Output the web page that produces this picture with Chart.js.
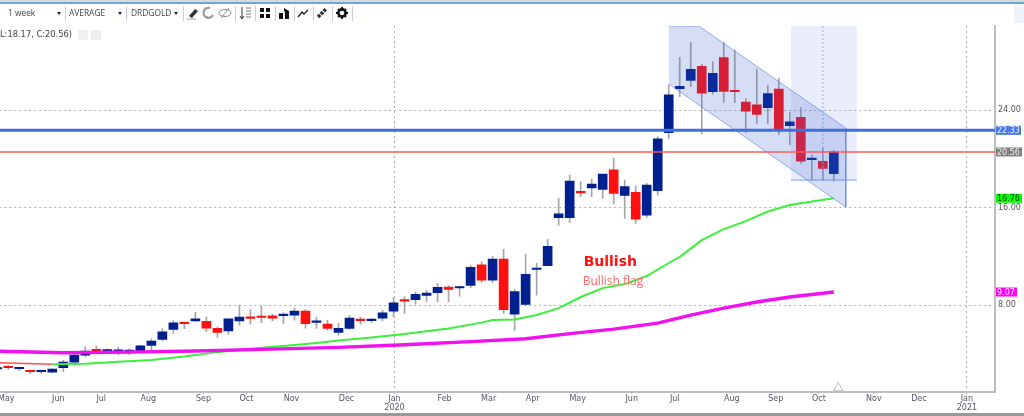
<!DOCTYPE html>
<html>
<head>
<meta charset="utf-8">
<title>DRDGOLD weekly</title>
<script src="https://cdn.jsdelivr.net/npm/chart.js@4/dist/chart.umd.js"></script>
<style>
  html, body { margin: 0; padding: 0; background: #fff; overflow: hidden; }
  #page { position: relative; width: 1024px; height: 416px; overflow: hidden; filter: blur(0.45px); font-family: "DejaVu Sans", sans-serif; }
  /* chart.js keeps 2px free on the left, canvas is moved over it */
  #Chart { position: absolute; left: -2px; top: 0; }
  .abs { position: absolute; }
  #stripe { left: 0; top: 0; width: 1024px; height: 2px; background: #d8d8d8; }
  #stripe2 { left: 0; top: 2px; width: 1024px; height: 2px; background: #6aa6d6; }
  #bottombar { left: 0; top: 413px; width: 1024px; height: 3px; background: #9a9a9a; }
  #corner { left: 1014px; top: 5px; width: 10px; height: 18px; background: #eef3fb; }
  .tb { top: 8px; font: 8px "Open Sans", sans-serif; color: #444; white-space: nowrap; line-height: 10px; font-size: 8.4px; }
  .sep { top: 6px; width: 1px; height: 15px; background: #ccd; }
  .caret { top: 12px; width: 0; height: 0; border-left: 2px solid transparent; border-right: 2px solid transparent; border-top: 3px solid #222; }
  svg.ic { position: absolute; top: 6px; width: 14px; height: 14px; }
  #ohlc { left: 0; top: 29px; font-size: 8.3px; line-height: 11px; color: #444; white-space: nowrap; }
  .mini { top: 30px; width: 10px; height: 10px; background: #efefef; }
</style>
</head>
<body>
<div id="page">
  <canvas id="Chart" width="1026" height="416"></canvas>
  <div class="abs" id="stripe"></div>
  <div class="abs" id="stripe2"></div>
  <div class="abs" id="bottombar"></div>
  <div class="abs" id="corner"></div>

  <div class="abs tb" style="left:8px">1 week</div>
  <div class="abs caret" style="left:57px"></div>
  <div class="abs sep" style="left:65px"></div>
  <div class="abs tb" style="left:69px">AVERAGE</div>
  <div class="abs caret" style="left:118px"></div>
  <div class="abs sep" style="left:126px"></div>
  <div class="abs tb" style="left:131px">DRDGOLD</div>
  <div class="abs caret" style="left:174px"></div>
  <div class="abs sep" style="left:183px"></div>

  <svg class="ic" style="left:186px" viewBox="0 0 14 14"><path d="M3 10 L9 3 L12 5 L6 12 Z" fill="#333"/><path d="M1 13 H10" stroke="#999"/></svg>
  <svg class="ic" style="left:201px" viewBox="0 0 14 14"><path d="M9 2 A5 5 0 1 0 12 9" fill="none" stroke="#999" stroke-width="2.2"/></svg>
  <svg class="ic" style="left:218px" viewBox="0 0 14 14"><ellipse cx="7" cy="7" rx="6" ry="3.5" fill="none" stroke="#888"/><path d="M3 12 L11 2" stroke="#888"/></svg>
  <div class="abs sep" style="left:235px"></div>
  <svg class="ic" style="left:238px" viewBox="0 0 14 14"><path d="M4 1 V12 M2 10 L4 13 L6 10" fill="none" stroke="#333"/><path d="M8 2 H13 M8 5 H13 M8 8 H13 M8 11 H13" stroke="#777"/></svg>
  <div class="abs sep" style="left:255px"></div>
  <svg class="ic" style="left:258px" viewBox="0 0 14 14"><path d="M2 2 H6 V6 H2 Z M8 2 H12 V6 H8 Z M2 8 H6 V12 H2 Z M8 8 H12 V12 H8 Z" fill="#111"/></svg>
  <div class="abs sep" style="left:275px"></div>
  <svg class="ic" style="left:277px" viewBox="0 0 14 14"><path d="M2 7 H6 V13 H2 Z M7 2 L12 5 V13 H8 V6 L7 5 Z" fill="#111"/></svg>
  <div class="abs sep" style="left:294px"></div>
  <svg class="ic" style="left:296px" viewBox="0 0 14 14"><path d="M2 11 L6 6 L8 8 L12 4" fill="none" stroke="#222" stroke-width="1.3"/></svg>
  <div class="abs sep" style="left:313px"></div>
  <svg class="ic" style="left:315px" viewBox="0 0 14 14"><path d="M3 11 L11 3" stroke="#333" stroke-width="3.5" stroke-dasharray="3 1"/></svg>
  <div class="abs sep" style="left:332px"></div>
  <svg class="ic" style="left:335px" viewBox="0 0 14 14"><circle cx="7" cy="7" r="3.6" fill="none" stroke="#111" stroke-width="2.6"/><path d="M7 1 V3 M7 11 V13 M1 7 H3 M11 7 H13 M3 3 L4.5 4.5 M9.5 9.5 L11 11 M11 3 L9.5 4.5 M4.5 9.5 L3 11" stroke="#111" stroke-width="1.8"/></svg>
  <div class="abs sep" style="left:352px"></div>

  <div class="abs" id="ohlc">L:18.17, C:20.56)</div>
  <div class="abs mini" style="left:78px"></div>
  <div class="abs mini" style="left:91px"></div>
</div>

<script>
// weekly candles
const opens  = [2.76,2.94,2.78,2.62,2.53,2.50,2.86,3.32,3.90,4.36,4.22,4.20,4.18,4.17,4.69,5.18,6.00,6.58,6.71,6.66,6.09,5.89,6.71,7.04,7.02,7.12,7.13,7.18,7.51,6.58,6.44,5.76,6.09,6.78,6.72,6.93,7.51,8.39,8.44,8.80,9.01,9.48,9.40,9.61,11.31,10.05,11.77,7.26,8.06,10.92,11.23,15.16,15.16,17.26,17.60,17.49,19.10,16.99,17.24,15.38,17.38,22.14,25.75,26.43,27.58,25.50,28.29,25.60,24.65,24.43,24.20,25.72,22.71,23.40,19.92,19.79,18.77];
const closes = [2.84,2.86,2.84,2.53,2.58,2.75,3.32,3.90,4.23,4.20,4.30,4.26,4.22,4.66,5.05,5.81,6.55,6.47,6.88,6.11,5.76,6.88,7.02,6.91,6.98,6.93,7.20,7.51,6.47,6.62,6.09,6.09,6.93,6.72,6.80,7.37,8.19,8.32,8.88,8.99,9.45,9.29,9.45,11.09,10.05,11.77,7.62,9.10,10.52,11.00,12.81,15.49,18.17,17.20,17.93,18.75,17.16,17.71,15.05,17.84,21.64,25.25,25.94,27.33,25.39,27.00,25.53,25.50,23.90,23.64,25.34,22.44,23.04,19.81,20.06,19.21,20.56];
const highs  = [2.94,3.05,2.94,2.67,2.69,2.80,3.46,3.98,4.58,4.64,4.42,4.53,4.42,4.70,5.24,6.06,6.71,6.63,7.40,7.04,6.22,6.88,8.00,7.64,7.92,7.26,7.37,7.75,7.64,6.99,6.77,6.50,7.15,6.99,6.88,7.59,8.63,8.68,9.07,9.18,9.78,9.59,9.56,11.25,11.55,11.97,12.57,9.29,12.18,11.42,13.39,16.75,18.66,18.12,18.34,18.75,20.05,18.25,17.79,17.98,21.80,26.05,28.32,29.55,27.74,27.96,29.55,28.92,24.95,27.33,26.05,26.60,23.78,24.19,20.30,20.85,20.70];
const lows   = [2.67,2.72,2.64,2.37,2.42,2.48,2.53,3.05,3.76,4.09,4.03,3.93,3.93,4.12,4.20,5.05,5.68,6.06,6.66,5.81,5.35,5.59,6.36,6.44,6.55,6.71,6.47,6.77,6.11,6.09,5.95,5.54,6.03,6.44,6.58,6.69,7.04,7.32,8.08,8.27,8.27,8.27,8.74,9.42,9.86,9.83,7.32,5.95,8.00,8.82,11.23,14.56,14.75,16.89,16.89,16.75,16.29,15.11,14.70,15.19,17.02,21.62,25.09,25.91,22.03,25.31,24.63,24.60,22.14,22.90,22.85,22.00,21.13,19.62,18.20,18.20,18.17];

// moving averages, sampled at the weeks where they could be read
const greenWeeks = [5,8,11,14,17,20,23,26,29,31,34,37,41,44,45,47,49,51,53,55,57,59,61,62,64,66,68,70,72,74,76];
const greenVals  = [3.14,3.19,3.36,3.49,3.78,4.14,4.41,4.65,4.88,5.09,5.35,5.62,6.07,6.56,6.77,6.81,7.18,7.75,8.66,9.39,9.72,10.38,11.45,11.96,13.33,14.23,14.89,15.67,16.20,16.49,16.76];
const redWeeks = [0,5];
const redVals  = [3.27,3.14];
const magentaWeeks = [0,6,12,18,24,31,37,43,48,52,56,60,63,66,69,72,76];
const magentaVals  = [4.21,4.09,4.14,4.23,4.37,4.53,4.74,5.00,5.24,5.66,6.03,6.52,7.18,7.75,8.25,8.66,9.07];

// bottom axis
const monthTicks  = [0.82,5.55,9.45,13.73,18.73,22.64,26.73,31.73,36.09,40.64,44.64,48.64,52.73,57.64,61.55,66.73,70.73,74.64,79.64,83.73,88.09];
const monthLabels = ['May','Jun','Jul','Aug','Sep','Oct','Nov','Dec',['Jan','2020'],'Feb','Mar','Apr','May','Jun','Jul','Aug','Sep','Oct','Nov','Dec',['Jan','2021']];
const gridWeeks = [36.09,88.09];
const priceTicks = [8,16,24];

// drawings on the chart
const channelWeeks = [61.0,63.73,77.09,77.09,61.0];
const channelPrices = [30.89,30.89,22.52,16.04,26.13];
const boxWeeks = [72.1,78.09,78.09,72.1];
const boxPrices = [30.89,30.89,18.25,18.25];
const crossWeek = 75;
const crossPrices = [30.89,18.25];
const blueLevel = 22.33;
const closeLevel = 20.56;
const xMin = 0.18, xMax = 90.64;
const yMin = 0.87, yMax = 30.89;

const priceTags = [
  { value: 22.33, text: '22.33', bg: '#4a78e6', fg: '#e8eefc', w: 25 },
  { value: 20.56, text: '20.56', bg: '#808080', fg: '#f0f0f0', w: 26 },
  { value: 16.76, text: '16.76', bg: '#00ff00', fg: '#1a3a1a', w: 26 },
  { value: 9.07,  text: '9.07',  bg: '#ff00ff', fg: '#ffe0ff', w: 21 }
];
const notes = [
  { week: 53.27, price: 11.53, text: 'Bullish', font: 'bold 14px "DejaVu Sans"', color: '#ff1010' },
  { week: 53.18, price: 9.89, text: 'Bullish flag', font: '12px "Open Sans"', color: '#ff6a6a' }
];

const toPoints = (xs, ys) => xs.map((x, i) => ({ x: x, y: ys[i] }));
const upColor = '#00208f', downColor = '#ff1010';

// price badges and text notes
const chartText = {
  id: 'chartText',
  afterDraw(chart) {
    const ctx = chart.ctx, xs = chart.scales.x, ys = chart.scales.y;
    ctx.save();
    ctx.textBaseline = 'middle';
    priceTags.forEach(t => {
      const y = ys.getPixelForValue(t.value);
      ctx.fillStyle = t.bg;
      ctx.fillRect(xs.right + 1, y - 4.5, t.w, 9);
      ctx.fillStyle = t.fg;
      ctx.font = '8px "DejaVu Sans"';
      ctx.textAlign = 'left';
      ctx.fillText(t.text, xs.right + 2, y + 0.5);
    });
    notes.forEach(n => {
      ctx.fillStyle = n.color;
      ctx.font = n.font;
      ctx.textAlign = 'left';
      ctx.fillText(n.text, xs.getPixelForValue(n.week), ys.getPixelForValue(n.price));
    });
    ctx.restore();
  }
};

Chart.defaults.font.family = '"DejaVu Sans", sans-serif';
Chart.defaults.font.size = 8;

new Chart(document.getElementById('Chart').getContext('2d'), {
  type: 'bar',
  data: {
    datasets: [
      // drawings go on top of the candles, lower order is drawn later
      { type: 'line', data: toPoints(channelWeeks, channelPrices), fill: 'shape', backgroundColor: 'rgba(50,90,205,0.2)', borderColor: 'rgba(90,125,225,0.6)', borderWidth: 1, pointRadius: 0, tension: 0, order: 3 },
      { type: 'line', data: toPoints(boxWeeks, boxPrices), fill: 'shape', backgroundColor: 'rgba(90,125,235,0.13)', borderColor: 'rgba(0,0,0,0)', borderWidth: 0, pointRadius: 0, tension: 0, order: 4 },
      { type: 'line', data: toPoints([boxWeeks[0], boxWeeks[1]], [boxPrices[2], boxPrices[2]]), borderColor: '#9db8ea', borderWidth: 1.2, pointRadius: 0, order: 4 },
      { type: 'line', data: toPoints([crossWeek, crossWeek], crossPrices), borderColor: '#94a9e0', borderWidth: 1, borderDash: [2, 2], pointRadius: 0, order: 3 },
      { type: 'line', data: toPoints([xMin, xMax], [blueLevel, blueLevel]), borderColor: '#3f6fdd', borderWidth: 3, pointRadius: 0, order: 1 },
      { type: 'line', data: toPoints([xMin, xMax], [closeLevel, closeLevel]), borderColor: '#ff5a5a', borderWidth: 1.6, pointRadius: 0, order: 2 },
      { type: 'line', data: toPoints(magentaWeeks, magentaVals), borderColor: '#f010f0', borderWidth: 3.4, pointRadius: 0, order: 5 },
      { type: 'line', data: toPoints(greenWeeks, greenVals), borderColor: '#3cf03c', borderWidth: 2, pointRadius: 0, order: 5 },
      { type: 'line', data: toPoints(redWeeks, redVals), borderColor: '#ff5050', borderWidth: 1.4, pointRadius: 0, order: 5 },
      { type: 'line', data: [{ x: 76.4, y: 1.19 }], showLine: false, pointStyle: 'triangle', pointRadius: 5.5, pointBorderColor: '#bbbbbb', pointBackgroundColor: '#ffffff', pointBorderWidth: 1, order: 6 },
      // candle bodies then wicks
      { data: opens.map((o, i) => ({ x: i, y: [o, closes[i]] })), backgroundColor: opens.map((o, i) => closes[i] >= o ? upColor : downColor), barThickness: 9, minBarLength: 1.5, grouped: false, order: 7 },
      { data: lows.map((l, i) => ({ x: i, y: [l, highs[i]] })), backgroundColor: '#a5a5a5', barThickness: 1, grouped: false, order: 8 }
    ]
  },
  options: {
    responsive: false,
    animation: false,
    layout: { autoPadding: false, padding: { top: 26, left: 0, right: 0, bottom: 0 } },
    plugins: { legend: { display: false }, tooltip: { enabled: false } },
    scales: {
      x: {
        type: 'linear',
        offset: false,
        min: xMin,
        max: xMax,
        afterBuildTicks(axis) { axis.ticks = monthTicks.map(v => ({ value: v })); },
        afterFit(axis) { axis.height = 24; },
        ticks: { autoSkip: false, maxRotation: 0, padding: 0, color: '#555566', callback: (v, i) => monthLabels[i] },
        grid: {
          offset: false,
          tickLength: 2,
          tickColor: '#bbbbbb',
          color: ctx => ctx.tick && gridWeeks.includes(ctx.tick.value) ? '#aaaaaa' : 'rgba(0,0,0,0)'
        },
        border: { color: '#bdbdbd', width: 2, dash: [2, 3] }
      },
      y: {
        position: 'right',
        min: yMin,
        max: yMax,
        afterBuildTicks(axis) { axis.ticks = priceTicks.map(v => ({ value: v })); },
        afterFit(axis) { axis.width = 29; },
        ticks: { padding: 3, color: '#555555', callback: v => v.toFixed(2) },
        grid: { color: '#b0b0b0', drawTicks: false },
        border: { color: '#bdbdbd', width: 2, dash: [2, 3] }
      }
    }
  },
  plugins: [chartText]
});
</script>
</body>
</html>
